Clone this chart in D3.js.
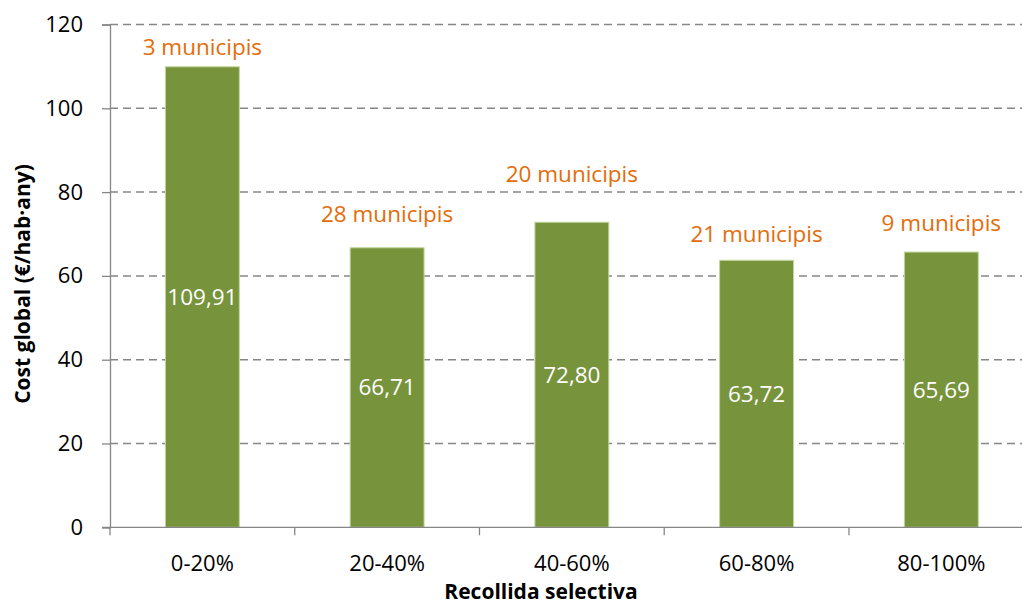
<!DOCTYPE html>
<html>
<head>
<meta charset="utf-8">
<script src="https://cdn.jsdelivr.net/npm/d3@7"></script>
<style>
  html, body { margin: 0; padding: 0; background: #fff; }
  svg { display: block; font-family: "Open Sans", "Noto Sans", sans-serif; }
</style>
</head>
<body>
<svg id="chart" width="1022" height="608"></svg>
<script>
// Cost global per tram de recollida selectiva
const categories = ["0-20%", "20-40%", "40-60%", "60-80%", "80-100%"];
const costValues = [109.91, 66.71, 72.80, 63.72, 65.69];
const municipalityLabels = ["3 municipis", "28 municipis", "20 municipis", "21 municipis", "9 municipis"];
// level (in axis units) where each municipality count label sits
const municipalityLabelLevels = [112.8, 72.9, 82.5, 68.2, 70.8];
const yTicks = [0, 20, 40, 60, 80, 100, 120];

const svg = d3.select("#chart");
const plotLeft = 110, plotRight = 1033.7, plotTop = 24.5, plotBottom = 527.3;

const x = d3.scaleBand()
  .domain(categories)
  .range([plotLeft, plotRight])
  .paddingInner(0.6)
  .paddingOuter(0.3);

const y = d3.scaleLinear().domain([0, 120]).range([plotBottom, plotTop]);

const axisColor = "#868686";
const fmt = v => v.toFixed(2).replace(".", ",");

// dashed horizontal gridlines
svg.append("g")
  .selectAll("line")
  .data(yTicks.filter(t => t > 0))
  .join("line")
  .attr("x1", plotLeft).attr("x2", plotRight)
  .attr("y1", d => y(d)).attr("y2", d => y(d))
  .attr("stroke", axisColor)
  .attr("stroke-width", 1.5)
  .attr("stroke-dasharray", "8,5");

// y axis
const yAxis = svg.append("g")
  .attr("transform", `translate(${plotLeft},0)`)
  .call(d3.axisLeft(y).tickValues(yTicks).tickSize(8).tickPadding(19).tickFormat(d3.format("d")));
yAxis.select(".domain").attr("stroke", axisColor).attr("stroke-width", 1.3);
yAxis.selectAll(".tick line").attr("stroke", axisColor).attr("stroke-width", 1.3);
yAxis.selectAll(".tick text")
  .attr("fill", "#000")
  .style("font-size", "22px")
  .style("font-family", "'Open Sans', sans-serif");

// bars
svg.append("g")
  .selectAll("rect")
  .data(categories.map((c, i) => ({ c, v: costValues[i] })))
  .join("rect")
  .attr("x", d => x(d.c))
  .attr("y", d => y(d.v))
  .attr("width", x.bandwidth())
  .attr("height", d => y(0) - y(d.v))
  .attr("fill", "#77933C")
  .attr("stroke", "#c3d69b")
  .attr("stroke-width", 1);

// x axis line with ticks at category boundaries
const xAxisG = svg.append("g");
xAxisG.append("line")
  .attr("x1", plotLeft - 8).attr("x2", plotRight)
  .attr("y1", y(0)).attr("y2", y(0))
  .attr("stroke", axisColor).attr("stroke-width", 1.3);
const boundaries = categories.map(c => x(c) - x.step() * x.paddingOuter());
xAxisG.selectAll("line.bt")
  .data(boundaries)
  .join("line")
  .attr("class", "bt")
  .attr("x1", d => d).attr("x2", d => d)
  .attr("y1", y(0)).attr("y2", y(0) + 8)
  .attr("stroke", axisColor).attr("stroke-width", 1.3);
xAxisG.selectAll("text")
  .data(categories)
  .join("text")
  .attr("x", d => x(d) + x.bandwidth() / 2)
  .attr("y", 571)
  .attr("text-anchor", "middle")
  .attr("fill", "#000")
  .style("font-size", "22px")
  .text(d => d);

// value labels inside bars
svg.append("g")
  .selectAll("text")
  .data(categories.map((c, i) => ({ c, v: costValues[i] })))
  .join("text")
  .attr("x", d => x(d.c) + x.bandwidth() / 2)
  .attr("y", d => y(d.v / 2))
  .attr("dy", "0.35em")
  .attr("text-anchor", "middle")
  .attr("fill", "#fff")
  .style("font-size", "22.5px")
  .text(d => fmt(d.v));

// municipality count labels
svg.append("g")
  .selectAll("text")
  .data(categories.map((c, i) => ({ c, t: municipalityLabels[i], l: municipalityLabelLevels[i] })))
  .join("text")
  .attr("x", d => x(d.c) + x.bandwidth() / 2)
  .attr("y", d => y(d.l))
  .attr("text-anchor", "middle")
  .attr("fill", "#E46C0A")
  .style("font-size", "22.5px")
  .text(d => d.t);

// axis titles
svg.append("text")
  .attr("transform", "translate(30,284) rotate(-90)")
  .attr("text-anchor", "middle")
  .attr("fill", "#000")
  .style("font-size", "21px")
  .style("font-weight", "bold")
  .text("Cost global (€/hab·any)");

svg.append("text")
  .attr("x", 541)
  .attr("y", 599)
  .attr("text-anchor", "middle")
  .attr("fill", "#000")
  .style("font-size", "21px")
  .style("font-weight", "bold")
  .text("Recollida selectiva");
</script>
</body>
</html>
